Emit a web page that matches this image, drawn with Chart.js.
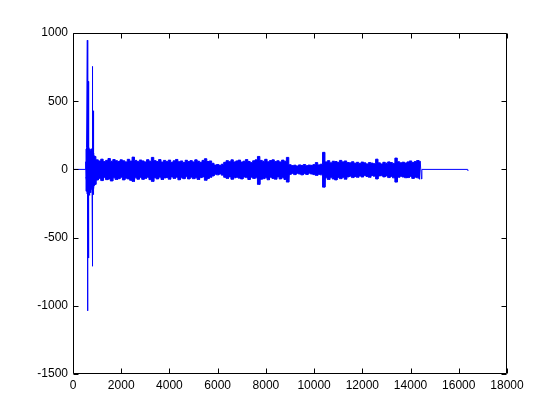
<!DOCTYPE html>
<html>
<head>
<meta charset="utf-8">
<script src="https://cdn.jsdelivr.net/npm/chart.js@4/dist/chart.umd.min.js"></script>
<style>
  html, body { margin: 0; padding: 0; background: #fff; }
  #wrap { width: 560px; height: 420px; }
</style>
</head>
<body>
<div id="wrap"><canvas id="c" width="560" height="420"></canvas></div>
<script>
// ---- data ----
const xTicks = [0, 2000, 4000, 6000, 8000, 10000, 12000, 14000, 16000, 18000];
const yTicks = [-1500, -1000, -500, 0, 500, 1000];

// leading silence
const leadIn = [[1, 0], [520, 0]];

// initial transient burst [sample, value]
const burst = [[530,55],[540,-60],[550,70],[560,-80],[575,160],[594,947],[600,-1037],[610,170],[620,-180],
  [636,645],[642,-650],[655,150],[665,-160],[680,140],[690,-190],[705,120],[715,-150],[730,130],[740,-170],
  [755,110],[765,-140],[780,150],[790,-130],[802,755],[808,-710],[820,120],[830,-150],[843,430],[850,-185],
  [865,110],[875,-120],[888,95]];

// envelope of the burst's dense core, one reading every 40 samples from 520 to 880
const burstStart = 520;
const burstStep = 40;
const burstUpper = [55, 150, 170, 160, 150, 140, 150, 130, 120, 100];
const burstLower = [-60, -160, -180, -190, -170, -150, -140, -150, -140, -110];

// envelope of the noisy body, one reading every 100 samples from 900 to 14400
const bodyStart = 900;
const bodyStep = 100;
const upper = [95,70,62,75,58,66,80,60,72,64,
  58,70,63,55,74,61,90,66,57,69,
  62,55,71,60,88,64,58,72,54,66,
  57,68,52,63,73,56,62,50,67,58,
  64,55,70,60,52,66,78,58,62,45,
  32,36,30,38,52,64,57,70,55,62,
  68,54,60,72,58,50,63,70,95,66,
  60,74,56,65,70,58,63,55,68,60,
  88,34,28,31,25,33,29,36,27,32,
  30,35,50,33,38,125,55,64,48,60,
  58,52,66,55,62,50,48,56,45,52,
  44,54,48,40,50,46,42,75,48,40,
  52,46,55,50,44,83,56,48,53,47,
  55,62,50,58,65,60];
const lower = [-110,-78,-66,-82,-60,-75,-70,-85,-62,-74,
  -68,-58,-77,-64,-70,-80,-88,-62,-72,-60,
  -73,-66,-58,-75,-88,-61,-70,-57,-74,-63,
  -60,-72,-55,-66,-58,-76,-62,-68,-54,-70,
  -57,-68,-62,-74,-60,-55,-80,-66,-58,-48,
  -36,-40,-33,-42,-58,-66,-55,-72,-62,-57,
  -64,-70,-56,-60,-74,-58,-66,-62,-110,-72,
  -68,-62,-76,-58,-66,-72,-55,-70,-62,-74,
  -93,-36,-30,-38,-29,-34,-40,-31,-37,-28,
  -34,-38,-44,-36,-40,-130,-62,-74,-58,-70,
  -77,-60,-68,-58,-72,-55,-50,-60,-52,-58,
  -48,-56,-45,-52,-58,-44,-50,-70,-48,-46,
  -55,-48,-60,-52,-62,-93,-58,-50,-56,-61,
  -60,-52,-66,-58,-62,-70];

// trailing silence
const tail = [[14470, 0], [16370, 0], [16384, -12]];

// ---- build the series ----
const pts = [];
leadIn.forEach(([x, y]) => pts.push({x, y}));
burst.forEach(([x, y]) => pts.push({x, y}));
for (let i = 0; i < upper.length; i++) {
  const x = bodyStart + i * bodyStep;
  pts.push({x: x, y: upper[i]});
  pts.push({x: x + bodyStep / 2, y: lower[i]});
}
tail.forEach(([x, y]) => pts.push({x, y}));

const upPts = burstUpper.map((v, i) => ({x: burstStart + i * burstStep, y: v}))
  .concat(upper.map((v, i) => ({x: bodyStart + i * bodyStep, y: v})));
const loPts = burstLower.map((v, i) => ({x: burstStart + i * burstStep, y: v}))
  .concat(lower.map((v, i) => ({x: bodyStart + i * bodyStep, y: v})));

const BLUE = '#0000ff';
const FONT = {family: "'Liberation Sans', Arial, sans-serif", size: 12};

const boxTicks = {
  id: 'boxTicks',
  afterDatasetsDraw(chart) {
    const {ctx, chartArea: a, scales: {x, y}} = chart;
    const L = Math.round(a.left) + 0.5, R = Math.round(a.right) - 0.5;
    const T = Math.round(a.top) + 0.5, B = Math.round(a.bottom) - 0.5;
    const len = 5;
    ctx.save();
    ctx.strokeStyle = '#000';
    ctx.lineWidth = 1;
    ctx.beginPath();
    ctx.rect(L, T, R - L, B - T);
    x.ticks.forEach(t => {
      const px = Math.round(x.getPixelForValue(t.value)) + 0.5;
      ctx.moveTo(px, B); ctx.lineTo(px, B - len);
      ctx.moveTo(px, T); ctx.lineTo(px, T + len);
    });
    y.ticks.forEach(t => {
      const py = Math.round(y.getPixelForValue(t.value)) + 0.5;
      ctx.moveTo(L, py); ctx.lineTo(L + len, py);
      ctx.moveTo(R, py); ctx.lineTo(R - len, py);
    });
    ctx.stroke();
    ctx.restore();
  }
};

new Chart(document.getElementById('c'), {
  type: 'line',
  data: {
    datasets: [
      {data: pts, borderColor: BLUE, borderWidth: 1, pointRadius: 0, tension: 0, fill: false},
      {data: upPts, borderColor: BLUE, backgroundColor: BLUE, borderWidth: 1, pointRadius: 0,
       stepped: 'middle', fill: '+1'},
      {data: loPts, borderColor: BLUE, borderWidth: 1, pointRadius: 0, stepped: 'middle', fill: false}
    ]
  },
  options: {
    responsive: false,
    animation: false,
    events: [],
    layout: {padding: {left: 0, top: 33, right: 53, bottom: 0}},
    plugins: {legend: {display: false}, tooltip: {enabled: false}},
    scales: {
      x: {
        type: 'linear', min: 0, max: 18000,
        afterBuildTicks: s => { s.ticks = xTicks.map(v => ({value: v})); },
        ticks: {callback: v => String(v), font: FONT, color: '#000', padding: 4, maxRotation: 0, autoSkip: false},
        grid: {display: false, drawTicks: false},
        border: {display: false},
        afterFit: s => { s.height = 46; }
      },
      y: {
        type: 'linear', min: -1500, max: 1000,
        afterBuildTicks: s => { s.ticks = yTicks.map(v => ({value: v})); },
        ticks: {callback: v => String(v), font: FONT, color: '#000', padding: 5, autoSkip: false},
        grid: {display: false, drawTicks: false},
        border: {display: false},
        afterFit: s => { s.width = 73; }
      }
    }
  },
  plugins: [boxTicks]
});
</script>
</body>
</html>
